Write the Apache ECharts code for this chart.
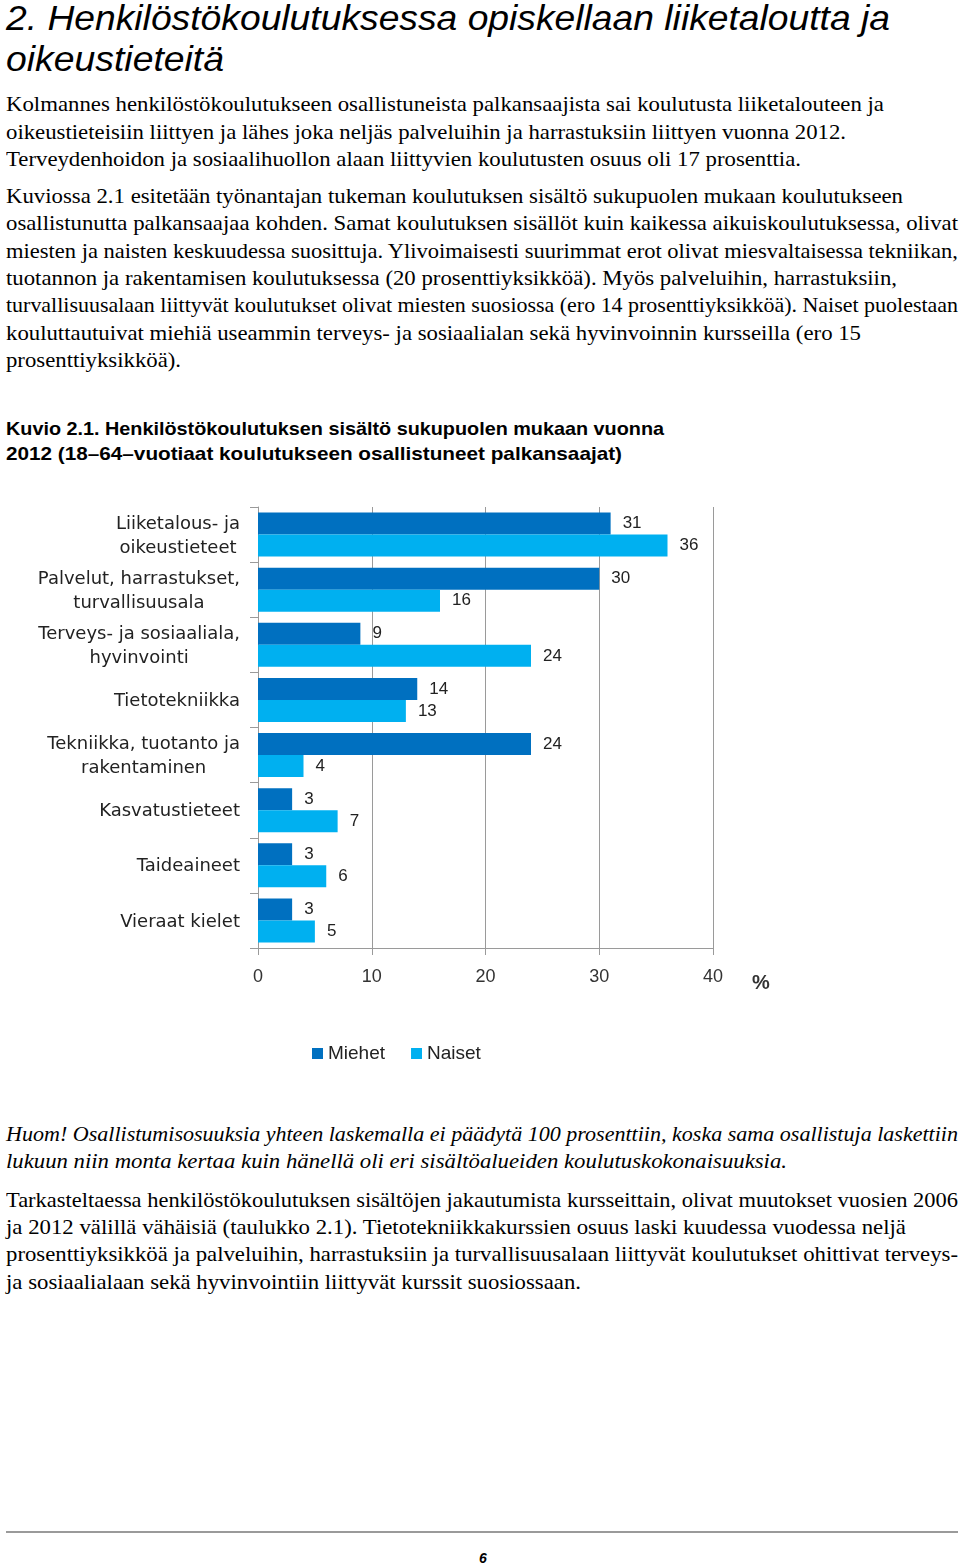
<!DOCTYPE html>
<html>
<head>
<meta charset="utf-8">
<script src="https://cdn.jsdelivr.net/npm/echarts@6/dist/echarts.min.js"></script>
<style>
  html, body { margin: 0; padding: 0; background: #fff; }
  #page { position: relative; width: 960px; height: 1565px; overflow: hidden; }
  .ln { position: absolute; left: 6px; white-space: nowrap; line-height: 1; transform-origin: 0 0; color: #000; }
  .title { font-family: "Liberation Sans", Arial, sans-serif; font-style: italic; font-size: 35px; }
  .body { font-family: "Liberation Serif", "Times New Roman", serif; font-size: 22px; }
  .note { font-family: "Liberation Serif", "Times New Roman", serif; font-style: italic; font-size: 22px; }
  .cap { font-family: "Liberation Sans", Arial, sans-serif; font-weight: bold; font-size: 18.5px; }
  #rule { position: absolute; left: 6px; width: 952px; top: 1531px; height: 2px; background: #9a9a9a; }
  #pageno { position: absolute; left: 0; width: 966px; text-align: center; top: 1550px; font-family: "Liberation Sans", Arial, sans-serif; font-weight: bold; font-style: italic; font-size: 14px; color: #000; }
  #chart { position: absolute; left: 0; top: 490px; width: 960px; height: 600px; }
</style>
</head>
<body>
<div id="page">
  <div id="chart"></div>
  <div id="rule"></div>
  <div id="pageno">6</div>
</div>
<script>
// ---- chart data ----
const categories = [
  "Liiketalous- ja\noikeustieteet",
  "Palvelut, harrastukset,\nturvallisuusala",
  "Terveys- ja sosiaaliala,\nhyvinvointi",
  "Tietotekniikka",
  "Tekniikka, tuotanto ja\nrakentaminen",
  "Kasvatustieteet",
  "Taideaineet",
  "Vieraat kielet"
];
const seriesNames = ["Miehet", "Naiset"];
const miehet = [31, 30, 9, 14, 24, 3, 3, 3];
const naiset = [36, 16, 24, 13, 4, 7, 6, 5];
const xTicks = [0, 10, 20, 30, 40];
const unitLabel = "%";

// ---- page text (lines as printed) ----
const textLines = [
  ["title", "2. Henkilöstökoulutuksessa opiskellaan liiketaloutta ja", 30, 890],
  ["title", "oikeustieteitä", 70.5, 224],
  ["body", "Kolmannes henkilöstökoulutukseen osallistuneista palkansaajista sai koulutusta liiketalouteen ja", 111.5, 884],
  ["body", "oikeustieteisiin liittyen ja lähes joka neljäs palveluihin ja harrastuksiin liittyen vuonna 2012.", 139, 846],
  ["body", "Terveydenhoidon ja sosiaalihuollon alaan liittyvien koulutusten osuus oli 17 prosenttia.", 166.5, 801],
  ["body", "Kuviossa 2.1 esitetään työnantajan tukeman koulutuksen sisältö sukupuolen mukaan koulutukseen", 203.5, 903],
  ["body", "osallistunutta palkansaajaa kohden. Samat koulutuksen sisällöt kuin kaikessa aikuiskoulutuksessa, olivat", 230.8, 958],
  ["body", "miesten ja naisten keskuudessa suosittuja. Ylivoimaisesti suurimmat erot olivat miesvaltaisessa tekniikan,", 258.1, 958],
  ["body", "tuotannon ja rakentamisen koulutuksessa (20 prosenttiyksikköä). Myös palveluihin, harrastuksiin,", 285.4, 897],
  ["body", "turvallisuusalaan liittyvät koulutukset olivat miesten suosiossa (ero 14 prosenttiyksikköä). Naiset puolestaan", 312.7, 958],
  ["body", "kouluttautuivat miehiä useammin terveys- ja sosiaalialan sekä hyvinvoinnin kursseilla (ero 15", 340, 861],
  ["body", "prosenttiyksikköä).", 367.3, 181],
  ["cap", "Kuvio 2.1. Henkilöstökoulutuksen sisältö sukupuolen mukaan vuonna", 435.5, 664],
  ["cap", "2012 (18–64–vuotiaat koulutukseen osallistuneet palkansaajat)", 460.5, 622],
  ["note", "Huom! Osallistumisosuuksia yhteen laskemalla ei päädytä 100 prosenttiin, koska sama osallistuja laskettiin", 1141, 958],
  ["note", "lukuun niin monta kertaa kuin hänellä oli eri sisältöalueiden koulutuskokonaisuuksia.", 1168, 787],
  ["body", "Tarkasteltaessa henkilöstökoulutuksen sisältöjen jakautumista kursseittain, olivat muutokset vuosien 2006", 1207, 958],
  ["body", "ja 2012 välillä vähäisiä (taulukko 2.1). Tietotekniikkakurssien osuus laski kuudessa vuodessa neljä", 1234.4, 906],
  ["body", "prosenttiyksikköä ja palveluihin, harrastuksiin ja turvallisuusalaan liittyvät koulutukset ohittivat terveys-", 1261.8, 958],
  ["body", "ja sosiaalialaan sekä hyvinvointiin liittyvät kurssit suosiossaan.", 1289.2, 581]
];

const page = document.getElementById('page');
const ascent = { title: 0.8465, cap: 0.8465, body: 0.8375, note: 0.8375 };
const sizes = { title: 35, cap: 18.5, body: 22, note: 22 };
textLines.forEach(([cls, txt, base, right]) => {
  const el = document.createElement('div');
  el.className = 'ln ' + cls;
  el.textContent = txt;
  el.style.top = (base - sizes[cls] * ascent[cls]) + 'px';
  page.appendChild(el);
  const w = el.getBoundingClientRect().width;
  el.style.transform = 'scaleX(' + ((right - 6) / w) + ')';
});

// ---- chart ----
const chart = echarts.init(document.getElementById('chart'), null, { renderer: 'canvas' });
const labelFont = '"Liberation Sans", Arial, sans-serif';
const catFont = '"DejaVu Sans", "Liberation Sans", sans-serif';
const option = {
  animation: false,
  color: ['#0070C0', '#00B0F0'],
  grid: { left: 258, right: 247, top: 17, bottom: 142, containLabel: false },
  legend: {
    data: seriesNames,
    left: 312,
    top: 554,
    padding: 0,
    icon: 'rect',
    itemWidth: 11,
    itemHeight: 11,
    itemGap: 26,
    textStyle: { fontFamily: labelFont, fontSize: 19, color: '#222' }
  },
  xAxis: {
    type: 'value',
    min: xTicks[0],
    max: xTicks[xTicks.length - 1],
    interval: xTicks[1] - xTicks[0],
    name: unitLabel,
    nameLocation: 'end',
    nameGap: 39,
    nameTextStyle: { fontFamily: labelFont, fontSize: 20, fontWeight: 'bold', color: '#333', verticalAlign: 'top', padding: [25, 0, 0, 0] },
    axisLine: { show: true, lineStyle: { color: '#9a9a9a', width: 1 } },
    axisTick: { show: true, length: 7, lineStyle: { color: '#9a9a9a' } },
    splitLine: { show: true, lineStyle: { color: '#9a9a9a', width: 1 } },
    axisLabel: { margin: 20, fontFamily: labelFont, fontSize: 18, color: '#333' }
  },
  yAxis: {
    type: 'category',
    data: categories,
    inverse: true,
    axisLine: { show: true, lineStyle: { color: '#9a9a9a', width: 1 } },
    axisTick: { show: true, length: 8, lineStyle: { color: '#9a9a9a' } },
    axisLabel: {
      margin: 18,
      align: 'right',
      fontFamily: catFont,
      fontSize: 18,
      color: '#222',
      lineHeight: 24,
      padding: [3, 0, 0, 0],
      formatter: function (v) {
        return v.split('\n').map(s => '{c|' + s + '}').join('\n');
      },
      rich: {
        c: { align: 'center', fontFamily: catFont, fontSize: 18, color: '#222', lineHeight: 24 }
      }
    }
  },
  series: [
    {
      name: seriesNames[0], type: 'bar', data: miehet,
      barGap: '0%', barCategoryGap: '20%',
      label: { show: true, position: 'right', distance: 12, fontFamily: labelFont, fontSize: 17, color: '#222' }
    },
    {
      name: seriesNames[1], type: 'bar', data: naiset,
      barGap: '0%', barCategoryGap: '20%',
      label: { show: true, position: 'right', distance: 12, fontFamily: labelFont, fontSize: 17, color: '#222' }
    }
  ]
};
chart.setOption(option);
</script>
</body>
</html>
